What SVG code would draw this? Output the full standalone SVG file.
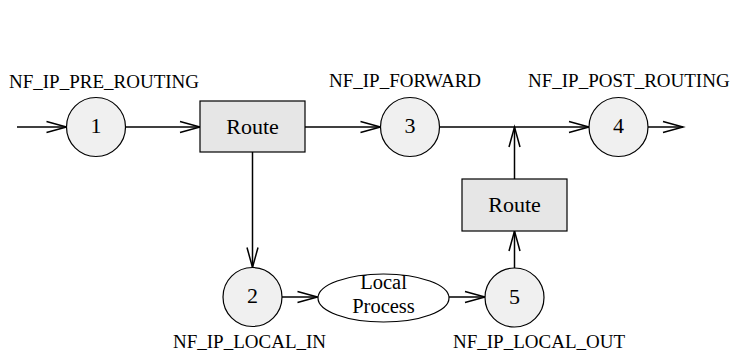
<svg xmlns="http://www.w3.org/2000/svg" width="730" height="352" viewBox="0 0 730 352">
<style>
  .lbl { font-family: "Liberation Serif", "Times New Roman", serif; font-size: 19px; fill: #000; }
  .txt { font-family: "Liberation Serif", "Times New Roman", serif; font-size: 22px; fill: #000; text-anchor: middle; }
  .ptxt { font-family: "Liberation Serif", "Times New Roman", serif; font-size: 20.5px; fill: #000; text-anchor: middle; }
  .hook { fill: #f0f0f0; stroke: #000; stroke-width: 1.2; }
  .route { fill: #e6e6e6; stroke: #000; stroke-width: 1.2; }
  .proc { fill: #fff; stroke: #000; stroke-width: 1.2; }
  .edge { stroke: #000; stroke-width: 1.5; fill: none; marker-end: url(#arr); }
</style>
<defs>
  <marker id="arr" markerUnits="userSpaceOnUse" markerWidth="22" markerHeight="13" refX="20" refY="6" orient="auto" overflow="visible">
    <path d="M0,0.5 L20,6 L0,11.5" fill="none" stroke="#000" stroke-width="1.5"/>
  </marker>
</defs>
<rect width="730" height="352" fill="#fff"/>
<g id="connectors">
  <line class="edge" x1="17" y1="127" x2="66.5" y2="127"/>
  <line class="edge" x1="125.5" y1="127" x2="200" y2="127"/>
  <line class="edge" x1="305" y1="127" x2="380.5" y2="127"/>
  <line class="edge" x1="439.5" y1="127" x2="589" y2="127"/>
  <line class="edge" x1="648" y1="127" x2="683" y2="127"/>
  <line class="edge" x1="252.5" y1="152" x2="252.5" y2="267.5"/>
  <line class="edge" x1="282" y1="297" x2="317.5" y2="297"/>
  <line class="edge" x1="449" y1="297" x2="485" y2="297"/>
  <line class="edge" x1="514.5" y1="268" x2="514.5" y2="231"/>
  <line class="edge" x1="514.5" y1="179" x2="514.5" y2="127"/>
</g>
<g id="hook1">
  <circle class="hook" cx="96" cy="127" r="29.5"/>
  <text class="txt" x="96" y="133">1</text>
  <text class="lbl" x="9" y="88">NF_IP_PRE_ROUTING</text>
</g>
<g id="route1">
  <rect class="route" x="200" y="101" width="105" height="51"/>
  <text class="txt" x="252.5" y="134">Route</text>
</g>
<g id="hook3">
  <circle class="hook" cx="410" cy="127" r="29.5"/>
  <text class="txt" x="410" y="133">3</text>
  <text class="lbl" x="329" y="87">NF_IP_FORWARD</text>
</g>
<g id="hook4">
  <circle class="hook" cx="618.5" cy="127" r="29.5"/>
  <text class="txt" x="618.5" y="133">4</text>
  <text class="lbl" x="528" y="87">NF_IP_POST_ROUTING</text>
</g>
<g id="route2">
  <rect class="route" x="462" y="179" width="105" height="52"/>
  <text class="txt" x="514.5" y="212">Route</text>
</g>
<g id="hook2">
  <circle class="hook" cx="252.5" cy="297" r="29.5"/>
  <text class="txt" x="252.5" y="303">2</text>
  <text class="lbl" x="173" y="347.5">NF_IP_LOCAL_IN</text>
</g>
<g id="local">
  <ellipse class="proc" cx="383.5" cy="298" rx="65.5" ry="24"/>
  <text class="ptxt" x="383.5" y="289">Local</text>
  <text class="ptxt" x="383.5" y="313">Process</text>
</g>
<g id="hook5">
  <circle class="hook" cx="514.5" cy="297.5" r="29.5"/>
  <text class="txt" x="514.5" y="303.5">5</text>
  <text class="lbl" x="453" y="347.5">NF_IP_LOCAL_OUT</text>
</g>
</svg>
